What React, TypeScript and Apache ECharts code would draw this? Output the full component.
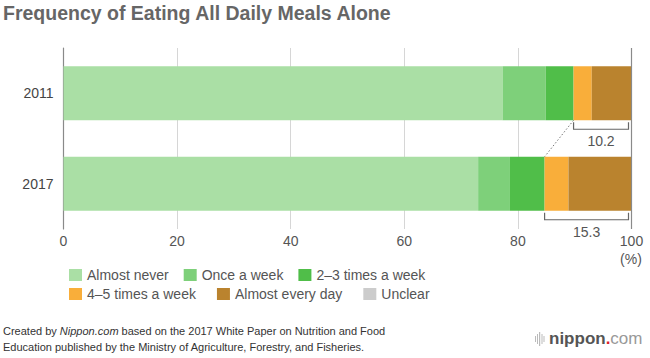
import React, { useEffect, useRef } from "react";
import * as echarts from "echarts";

const years = ["2011", "2017"];
const seriesNames = [
  "Almost never",
  "Once a week",
  "2–3 times a week",
  "4–5 times a week",
  "Almost every day",
  "Unclear",
];
const almostNever = [77.3, 73.0];
const onceAWeek = [7.6, 5.6];
const twoThree = [4.9, 6.1];
const fourFive = [3.2, 4.2];
const everyDay = [7.0, 11.1];
const unclear = [0, 0];
const colors = ["#aadfa5", "#7ed07a", "#50be49", "#f9ae3a", "#ba832e", "#cccccc"];
// bracket annotations: [start, end, category index, label]
const brackets: [number, number, number, string][] = [
  [89.8, 100, 0, "10.2"],
  [84.7, 100, 1, "15.3"],
];

const FONT = "'Liberation Sans', Arial, Helvetica, sans-serif";

export default function App() {
  const ref = useRef<HTMLDivElement>(null);
  useEffect(() => {
    if (!ref.current) return;
    const chart = echarts.init(ref.current, null, { renderer: "svg" });
    const values = [almostNever, onceAWeek, twoThree, fourFive, everyDay, unclear];
    const barSeries = values.map((v, i) => ({
      name: seriesNames[i],
      type: "bar",
      stack: "total",
      barWidth: 54,
      data: v,
      itemStyle: { color: colors[i] },
      emphasis: { disabled: true },
      ...(i === 0
        ? {
            markLine: {
              silent: true,
              symbol: "none",
              label: { show: false },
              lineStyle: { color: "#8a8a8a", type: "solid", width: 1.2 },
              data: [{ xAxis: 100 }],
            },
          }
        : {}),
    }));
    const option: any = {
      animation: false,
      textStyle: { fontFamily: FONT },
      grid: { left: 63.5, right: 18.5, top: 48, height: 181, containLabel: false },
      xAxis: {
        type: "value",
        min: 0,
        max: 100,
        interval: 20,
        axisLine: { show: false },
        axisTick: { show: false },
        splitLine: { lineStyle: { color: "#d6d6d6", width: 1 } },
        axisLabel: { color: "#555", fontSize: 14, margin: 5, fontFamily: FONT },
      },
      yAxis: {
        type: "category",
        data: years,
        inverse: true,
        axisLine: { lineStyle: { color: "#8a8a8a", width: 1.2 } },
        axisTick: { show: false },
        axisLabel: { color: "#444", fontSize: 14, margin: 10, fontFamily: FONT },
      },
      legend: [
        {
          left: 64,
          top: 263,
          itemWidth: 13,
          itemHeight: 12,
          itemGap: 15,
          icon: "rect",
          selectedMode: false,
          textStyle: { color: "#555", fontSize: 14, fontFamily: FONT },
          data: seriesNames.slice(0, 3),
        },
        {
          left: 64,
          top: 282,
          itemWidth: 13,
          itemHeight: 12,
          itemGap: 21,
          icon: "rect",
          selectedMode: false,
          textStyle: { color: "#555", fontSize: 14, fontFamily: FONT },
          data: seriesNames.slice(3),
        },
      ],
      series: [
        ...barSeries,
        {
          type: "custom",
          silent: true,
          data: brackets.map((b) => [b[0], b[1], b[2]]),
          renderItem: (params: any, api: any) => {
            const s = api.value(0);
            const e = api.value(1);
            const c = api.value(2);
            const p1 = api.coord([s, c]);
            const p2 = api.coord([e, c]);
            const half = api.size([0, 1])[1] * 0.2983;
            const yb = p1[1] + half;
            const x2 = p2[0] - 3;
            const label = brackets[params.dataIndex][3];
            const children: any[] = [
              {
                type: "polyline",
                shape: {
                  points: [
                    [p1[0], yb + 2],
                    [p1[0], yb + 9],
                    [x2, yb + 9],
                    [x2, yb + 2],
                  ],
                },
                style: { stroke: "#666", lineWidth: 1.2, fill: "none" },
              },
              {
                type: "text",
                x: (p1[0] + x2) / 2,
                y: yb + 21,
                style: {
                  text: label,
                  fill: "#555",
                  fontSize: 14,
                  fontFamily: FONT,
                  align: "center",
                  verticalAlign: "middle",
                },
              },
            ];
            if (params.dataIndex === 0 && brackets.length > 1) {
              const nb = brackets[1];
              const q = api.coord([nb[0], nb[2]]);
              children.push({
                type: "line",
                shape: { x1: p1[0], y1: yb, x2: q[0], y2: q[1] - half },
                style: { stroke: "#777", lineWidth: 1, lineDash: [1.5, 2] },
              });
            }
            return { type: "group", children };
          },
        },
      ],
      graphic: [
        {
          type: "text",
          left: 3,
          top: 3,
          style: {
            text: "Frequency of Eating All Daily Meals Alone",
            fill: "#666",
            fontSize: 19.5,
            fontWeight: "bold",
            fontFamily: FONT,
          },
        },
        {
          type: "text",
          x: 631,
          y: 259,
          style: {
            text: "(%)",
            fill: "#555",
            fontSize: 14,
            fontFamily: FONT,
            align: "center",
            verticalAlign: "middle",
          },
        },
        {
          type: "text",
          left: 3,
          top: 325,
          style: {
            text:
              "{n|Created by }{i|Nippon.com}{n| based on the 2017 White Paper on Nutrition and Food}\n{n|Education published by the Ministry of Agriculture, Forestry, and Fisheries.}",
            fill: "#333",
            fontFamily: FONT,
            rich: {
              n: { fontSize: 11, fill: "#333", fontFamily: FONT, lineHeight: 16 },
              i: { fontSize: 11, fill: "#333", fontFamily: FONT, fontStyle: "italic", lineHeight: 16 },
            },
          },
        },
        // logo bars
        { type: "rect", shape: { x: 535, y: 336, width: 1, height: 6 }, style: { fill: "#bbb" } },
        { type: "rect", shape: { x: 537, y: 334, width: 1, height: 10 }, style: { fill: "#bbb" } },
        { type: "rect", shape: { x: 539, y: 332, width: 1.2, height: 14 }, style: { fill: "#bbb" } },
        { type: "rect", shape: { x: 541.5, y: 334, width: 1, height: 10 }, style: { fill: "#bbb" } },
        { type: "rect", shape: { x: 543.5, y: 336, width: 1, height: 6 }, style: { fill: "#bbb" } },
        {
          type: "text",
          left: 549,
          top: 330,
          style: {
            text: "{a|nippon}{b|.}{c|com}",
            rich: {
              a: { fontSize: 17, fontWeight: "bold", fill: "#555", fontFamily: FONT },
              b: { fontSize: 17, fontWeight: "bold", fill: "#e0202a", fontFamily: FONT },
              c: { fontSize: 17, fill: "#999", fontFamily: FONT },
            },
          },
        },
      ],
    };
    chart.setOption(option);
    return () => chart.dispose();
  }, []);
  return <div ref={ref} style={{ width: 650, height: 358, position: "absolute", left: 0, top: 0 }} />;
}
